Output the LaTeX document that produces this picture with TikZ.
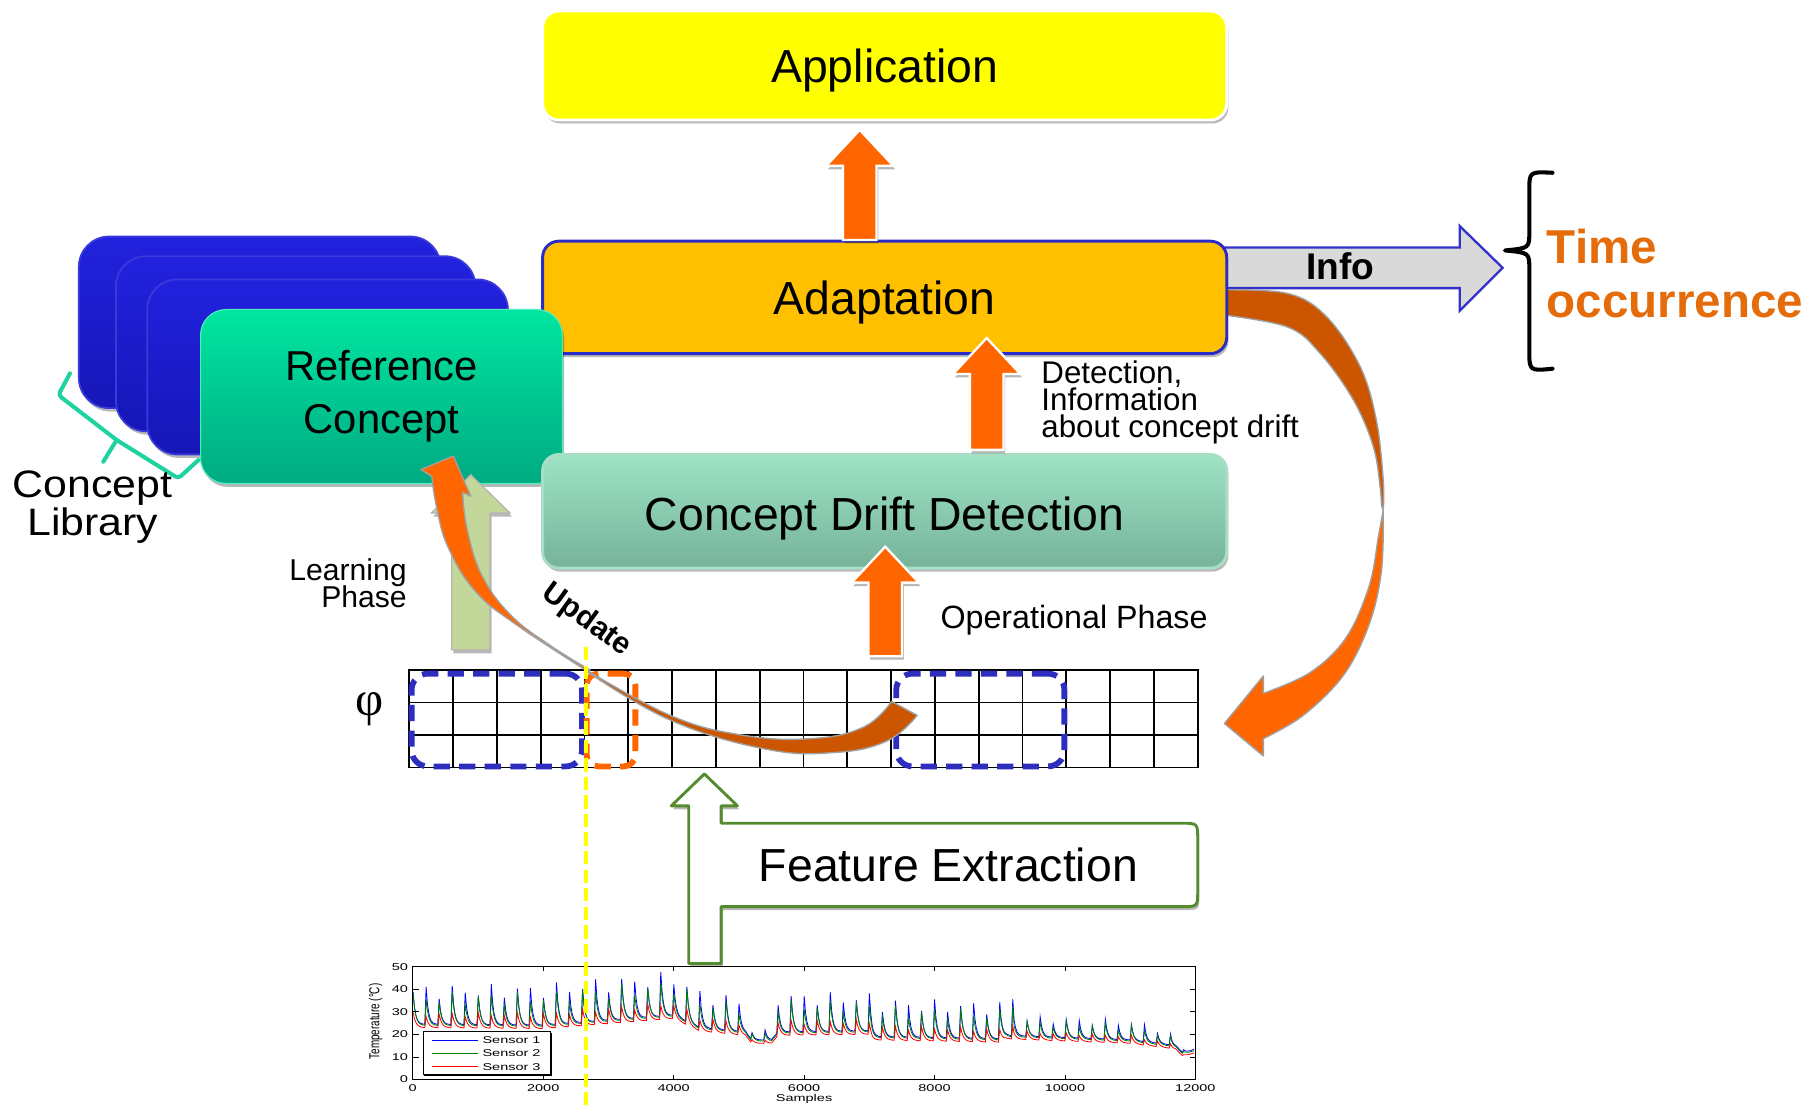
\documentclass[tikz,border=0pt]{standalone}
\usepackage{fontspec}
\usepackage{graphicx}
\setmainfont{Liberation Sans}
\newfontfamily\phifont{Liberation Serif}
\newfontfamily\libfont{Liberation Sans}[FakeStretch=1.12]
\usetikzlibrary{shadows,calc,backgrounds}

\definecolor{appyellow}{HTML}{FFFF00}
\definecolor{adaptfill}{HTML}{FFC000}
\definecolor{adaptdraw}{HTML}{2B2BC8}
\definecolor{cddtop}{HTML}{9EE3C5}
\definecolor{cddbot}{HTML}{76B39A}
\definecolor{cdddraw}{HTML}{A8DEC6}
\definecolor{reftop}{HTML}{00E6A0}
\definecolor{refbot}{HTML}{00AA82}
\definecolor{libtop}{HTML}{2222DE}
\definecolor{libbot}{HTML}{1616B8}
\definecolor{libdraw}{HTML}{3A3ADC}
\definecolor{arrorange}{HTML}{FF6600}
\definecolor{darkorange}{HTML}{CC5500}
\definecolor{learngreen}{HTML}{C4D79B}
\definecolor{fegreen}{HTML}{558B2F}
\definecolor{infogray}{HTML}{D9D9D9}
\definecolor{infoblue}{HTML}{3333CC}
\definecolor{timeorange}{HTML}{E46C0A}
\definecolor{bracegreen}{HTML}{1ED3A0}
\definecolor{dashblue}{HTML}{2E2EBE}
\definecolor{ribbonedge}{HTML}{A0A0A0}
\definecolor{sensorblue}{HTML}{0000FF}
\definecolor{sensorgreen}{HTML}{008000}
\definecolor{sensorred}{HTML}{FF0000}

\newcommand\fs[2]{\fontsize{#1}{#2}\selectfont}
\newcommand\lowr[2]{\raisebox{-#1}[\height][\depth]{#2}}
\newcommand\sq[1]{\scalebox{1}[0.68]{#1}}
% block arrow pointing up: style, bottom, tip, shaft half width, head half width, head length
\newcommand\blockup[6]{%
  \path[#1] let \p1=(#2), \p2=(#3) in
    (\x2-#4,\y1) -- (\x2-#4,\y2-#6) -- (\x2-#5,\y2-#6) -- (\x2,\y2)
    -- (\x2+#5,\y2-#6) -- (\x2+#4,\y2-#6) -- (\x2+#4,\y1) -- cycle;}

\begin{document}
\begin{tikzpicture}[x=1pt,y=-1pt,
  declare function={
    tb(\t)=23-0.25*\t+2.5*max(\t-2,0)-16*max(\t-4,0)+10.893*max(\t-4.4,0)-32.143*max(\t-5.1,0)+35*max(\t-5.2,0)+35*max(\t-5.5,0)-34.643*max(\t-5.6,0)-50.357*max(\t-7,0)+49.487*max(\t-7.05,0)+15.513*max(\t-9,0)-16.053*max(\t-9.1,0)-2.518*max(\t-11,0)-26.429*max(\t-11.7,0)+35*max(\t-11.8,0)+5*max(\t-11.9,0);
    am(\t)=17+0.25*\t-6.25*max(\t-4,0)+4.333*max(\t-4.5,0)-98.333*max(\t-5.1,0)+100*max(\t-5.2,0)+120*max(\t-5.5,0)-120.714*max(\t-5.6,0)+0.214*max(\t-7,0)-6.167*max(\t-11,0)-63.333*max(\t-11.6,0)+70*max(\t-11.7,0);
    ph(\t)=mod(\t,0.2)/0.2;
    rv(\t,\k)=sin(floor(\t/0.2)*137.3+\k);
    cyv(\v)=931-1.944*\v;
  },
  shad/.style={drop shadow={shadow xshift=1.5pt,shadow yshift=-3pt,opacity=0.28,fill=black}},
  libbox/.style={rectangle,rounded corners=26pt,draw=libdraw,line width=1.5pt,top color=libtop,bottom color=libbot,inner sep=0pt,outer sep=0pt,shad},
  mainbox/.style={rectangle,rounded corners=14pt,inner sep=0pt,outer sep=0pt,minimum width=590pt,font=\fs{40}{44},shad},
  blockor/.style={fill=arrorange,draw=white,line width=2pt,shad},
  blocklearn/.style={fill=learngreen,draw=black!30,line width=1pt,shad},
  dashbox/.style={rectangle,line width=5pt,rounded corners=14pt,dash pattern=on 14pt off 8pt,inner sep=0pt},
  ribbon/.style={draw=ribbonedge,line width=1.2pt,line join=round},
  gridline/.style={line width=1.5pt},
  plotline/.style={line width=0.7pt},
  chartlbl/.style={font=\fs{12.5}{13},inner sep=0pt},
  feout/.style={draw=fegreen,line width=2.5pt,fill=white,line join=round,shad},
  yellowdash/.style={draw=appyellow,line width=4pt,dash pattern=on 11.5pt off 4.5pt},
]
\useasboundingbox (0,0) rectangle (1568,953);

% ---------- concept library stack ----------
\node[libbox,minimum width=312pt,minimum height=148pt] (lib1) at (224,278) {};
\node[libbox,minimum width=310pt,minimum height=151pt] (lib2) at (255,296.5) {};
\node[libbox,minimum width=311pt,minimum height=151pt] (lib3) at (282.5,316.5) {};

% ---------- main boxes ----------
\node[mainbox,minimum height=97pt,fill=adaptfill,draw=adaptdraw,line width=2.5pt] (adapt) at (763,256.5) {\lowr{4.5pt}{Adaptation}};
\node[rectangle,rounded corners=22pt,minimum width=312pt,minimum height=150pt,top color=reftop,bottom color=refbot,draw=reftop!70!white,line width=1pt,inner sep=0pt,outer sep=0pt,align=center,font=\fs{36}{46},shad] (refc) at (329,342) {Reference\\Concept};
\node[mainbox,minimum height=98pt,top color=cddtop,bottom color=cddbot,draw=cdddraw,line width=2.5pt] (cdd) at (763,441) {\lowr{6pt}{Concept Drift Detection}};
\node[mainbox,minimum height=94pt,fill=appyellow,draw=white,line width=2.5pt] (app) at (763,56.5) {\lowr{4pt}{Application}};

% ---------- feature grid ----------
\node[draw,line width=1.5pt,minimum width=680pt,minimum height=84pt,inner sep=0pt,outer sep=0pt] (grid) at (693,620) {};
\foreach \i in {1,...,17}
  \draw[gridline] ($(grid.north west)+(\i*37.778,0)$) -- ($(grid.south west)+(\i*37.778,0)$);
\foreach \j in {1,2}
  \draw[gridline] ($(grid.north west)+(0,\j*28)$) -- ($(grid.north east)+(0,\j*28)$);

% ---------- background: info arrow and big curved arrow ----------
\coordinate (infos) at ($(adapt.east)+(-8,-25.5)$);
\coordinate (infotip) at ($(infos)+(246,0)$);
\begin{scope}[on background layer]
  \fill[white] (0,0) rectangle (1568,953);
  \path[fill=infogray,draw=infoblue,line width=2pt,line join=miter] let \p1=(infos), \p2=(infotip) in
    (\x1,\y1+17.5pt) -- (\x2-37pt,\y1+17.5pt) -- (\x2-37pt,\y1+36pt) -- (\x2,\y2)
    -- (\x2-37pt,\y1-37pt) -- (\x2-37pt,\y1-17.5pt) -- (\x1,\y1-17.5pt) -- cycle;
  % dark (back) part of the curved arrow
  \filldraw[ribbon,fill=darkorange]
    plot[smooth,tension=0.6] coordinates {(1050,250) (1110,253) (1144,273) (1173,316) (1187,362) (1193,414) (1193,440)}
    -- plot[smooth,tension=0.6] coordinates {(1191.5,436) (1190.3,419.8) (1184.5,385.3) (1167.3,345) (1138.5,304.7) (1109.8,281.8) (1050,271)}
    -- cycle;
  % bright (front) part with head
  \coordinate (curvetip) at (1056,624);
  \filldraw[ribbon,fill=arrorange]
    plot[smooth,tension=0.6] coordinates {(1193,440) (1191.5,492) (1181,538) (1159,582) (1124,617) (1089.6,637)}
    -- (1089.6,652) -- (curvetip) -- (1089.6,583)
    -- plot[smooth,tension=0.6] coordinates {(1089.6,598) (1130,580) (1161,550) (1181,505) (1189,462) (1193,440)}
    -- cycle;
\end{scope}

% ---------- block arrows ----------
\coordinate (a1b) at ($(adapt.north)+(-21.5,-1)$);
\coordinate (a1t) at ($(app.south)+(-21.5,8.5)$);
\blockup{blockor}{a1b}{a1t}{14.5pt}{29pt}{31pt}
\coordinate (a2b) at ($(cdd.north)+(88,-4)$);
\coordinate (a2t) at ($(adapt.south)+(88,-13.5)$);
\blockup{blockor}{a2b}{a2t}{14.5pt}{29pt}{31pt}
\coordinate (a3b) at ($(cdd.south |- grid.north)+(0.5,-12)$);
\coordinate (a3t) at ($(cdd.south)+(0.5,-18.5)$);
\blockup{blockor}{a3b}{a3t}{14.5pt}{29pt}{31pt}
\coordinate (lb) at ($(refc.south |- grid.north)+(77,-17.5)$);
\coordinate (lt) at ($(refc.south)+(77,-7.5)$);
\blockup{blocklearn}{lb}{lt}{16.5pt}{34pt}{33pt}

% ---------- windows on the grid ----------
\node[dashbox,draw=dashblue,minimum width=147pt,minimum height=80pt] (win1) at (428.5,621) {};
\node[dashbox,draw=arrorange,rounded corners=10pt,minimum width=42pt,minimum height=80pt] (win2) at (527,621) {};
\node[dashbox,draw=dashblue,minimum width=145pt,minimum height=80pt] (win3) at (845.5,621) {};

% ---------- update ribbon ----------
\coordinate (updtip) at (391,393.3);
\filldraw[ribbon,fill=darkorange]
  plot[smooth,tension=0.7] coordinates {(506,578) (578,617) (640,634) (700,637) (745,627) (769,605)}
  -- (791,617)
  -- plot[smooth,tension=0.7] coordinates {(791,617) (765,639) (720,649) (660,646) (578,621) (506,579)}
  -- cycle;
\filldraw[ribbon,fill=arrorange]
  (updtip) -- (406,428) -- (399,424.5)
  -- plot[smooth,tension=0.7] coordinates {(399,424.5) (403,457) (416,497) (441,531) (475,557) (508.9,577.9)}
  -- plot[smooth,tension=0.7] coordinates {(506,578.5) (445,538.5) (410,510) (386.5,472) (376.5,437) (372.5,411)}
  -- (363,405) -- cycle;

% ---------- feature extraction ----------
\coordinate (fetip) at ($(grid.south)+(-85.5,5.5)$);
\draw[feout] (594,831) -- (594,695) -- (579,695) -- (fetip) -- (636,695) -- (622,695) -- (622,710)
  -- (1019,710) .. controls (1033,710) .. (1033,724) -- (1033,768) .. controls (1033,782) .. (1019,782)
  -- (622,782) -- (622,831) -- cycle;
\node[font=\fs{40}{44},inner sep=0pt] (fe) at (818,746) {Feature Extraction};

% ---------- chart ----------
\begin{scope}
  \clip (356,833.8) rectangle (1031,931);
  \draw[plotline,sensorblue] plot[domain=0.005:11.985,samples=600,variable=\t]
    ({356+56.25*\t},{cyv(tb(\t)+1.5+1.2*am(\t)*(0.82+0.18*rv(\t,0))*exp(-6*ph(\t))+19*(\t>11.86)*(\t<11.875))});
  \draw[plotline,sensorgreen] plot[domain=0.005:11.985,samples=600,variable=\t]
    ({356+56.25*\t},{cyv(tb(\t)+1.0+1.0*am(\t)*(0.8+0.2*rv(\t,50))*exp(-5.5*ph(\t))+18*(\t>11.86)*(\t<11.875))});
  \draw[plotline,sensorred] plot[domain=0.005:11.985,samples=600,variable=\t]
    ({356+56.25*\t},{cyv(tb(\t)+0.45*am(\t)*(0.85+0.15*rv(\t,100))*exp(-5*ph(\t))+17*(\t>11.86)*(\t<11.875))});
\end{scope}
\node[draw,line width=0.8pt,minimum width=675pt,minimum height=97.2pt,inner sep=0pt,outer sep=0pt] (chart) at (693.5,882.4) {};
\foreach \k/\lab in {0/0,1/2000,2/4000,3/6000,4/8000,5/10000,6/12000} {
  \draw[line width=0.6pt] (356+112.5*\k,931) -- ++(0,-4);
  \draw[line width=0.6pt] (356+112.5*\k,833.8) -- ++(0,4);
  \node[chartlbl] (xl\k) at (356+112.5*\k,938.7) {\sq{\lab}};
}
\foreach \v in {0,10,20,30,40,50} {
  \draw[line width=0.6pt] (356,931-1.944*\v) -- ++(5,0);
  \draw[line width=0.6pt] (1031,931-1.944*\v) -- ++(-5,0);
  \node[chartlbl,anchor=east] (yl\v) at (352,931-1.944*\v) {\sq{\v}};
}
\node[chartlbl] (samples) at (693.5,948) {\sq{Samples}};
\node[chartlbl,rotate=90] (templbl) at (324,881) {\scalebox{0.68}[1]{Temperature (°C)}};
\node[draw,fill=white,line width=0.8pt,minimum width=110pt,minimum height=37pt,inner sep=0pt,
  drop shadow={shadow xshift=1pt,shadow yshift=-1pt,opacity=1,fill=black}] (legend) at (420,908.5) {};
\foreach \c/\n/\yy in {sensorblue/1/897,sensorgreen/2/908.5,sensorred/3/920} {
  \draw[\c,line width=0.8pt] (372.6,\yy) -- (412,\yy);
  \node[chartlbl,anchor=west] (leg\n) at (416,\yy) {\sq{Sensor \n}};
}

% ---------- yellow marker line ----------
\coordinate (ytop) at (505.5,558);
\coordinate (ybot) at (505.5,953);
\draw[yellowdash] (ytop) -- (ybot);

% ---------- braces ----------
\draw[bracegreen,line width=3.5pt,line cap=round,line join=round,rounded corners=3pt]
  (60.4,322) -- (50.3,340.7) -- (100.6,379.5) -- (153.8,412.6) -- (171.1,396.8);
\draw[bracegreen,line width=3.5pt,line cap=round] (100.6,379.5) -- (89.1,398.2);
\draw[black,line width=3.5pt,line cap=round,line join=round]
  (1339,149) .. controls (1319,148) .. (1319,165) -- (1319,200)
  .. controls (1319,214) .. (1298,216) .. controls (1319,218) .. (1319,232)
  -- (1319,302) .. controls (1319,320) .. (1339,318);

% ---------- texts ----------
\node[anchor=north west,align=left,inner sep=0pt,font={\fs{27}{23.3}\lineskiplimit=-20pt}] (detinfo) at (898,311) {Detection,\\Information\\about concept drift};
\node[anchor=base west,inner sep=0pt,font=\fs{27.8}{30}] (oper) at (811,541.7) {Operational Phase};
\node[anchor=north east,align=right,inner sep=0pt,font={\fs{26}{23}\lineskiplimit=-20pt}] (learn) at (351,482) {Learning\\Phase};
\node[rotate=-36,font=\bfseries\fs{26}{28},inner sep=0pt] (upd) at (506,535) {Update};
\node[font=\phifont\fs{42}{44},inner sep=0pt] (phi) at (319,612) {φ};
\node[anchor=north,align=center,inner sep=0pt,font={\libfont\fs{33}{33.5}\lineskiplimit=-20pt}] (clib) at (80,405.5) {Concept\\Library};
\node[font=\bfseries\fs{32}{34},inner sep=0pt] (info) at (1156,230) {Info};
\node[anchor=north west,align=left,inner sep=0pt,text=timeorange,font={\bfseries\fs{41}{46}\lineskiplimit=-20pt}] (time) at (1334,197.5) {Time\\occurrence};
\end{tikzpicture}
\end{document}
